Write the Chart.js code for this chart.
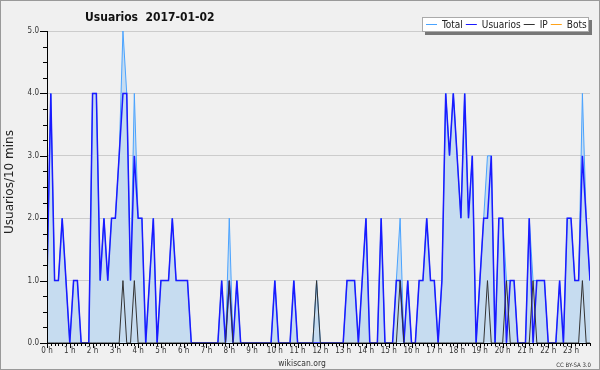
<!DOCTYPE html>
<html>
<head>
<meta charset="utf-8">
<script src="https://cdn.jsdelivr.net/npm/chart.js@4.4.0/dist/chart.umd.min.js"></script>
<style>
  body { margin: 0; background: #f0f0f0; }
  canvas { display: block; }
</style>
</head>
<body>
<canvas id="chart" width="600" height="370"></canvas>
<script>
// 10-minute slots of the day (0 = 00:00, 143 = 23:50)
const slots = Array.from({ length: 144 }, (_, i) => i);
const hourLabels = ['0 h', '1 h', '2 h', '3 h', '4 h', '5 h', '6 h', '7 h', '8 h', '9 h', '10 h', '11 h',
  '12 h', '13 h', '14 h', '15 h', '16 h', '17 h', '18 h', '19 h', '20 h', '21 h', '22 h', '23 h'];
const yTicks = [0, 1, 2, 3, 4, 5];

// usuarios / 10 mins
const total = [
  1, 4, 1, 1, 2, 1, 0, 1, 1, 0, 0, 0,
  4, 4, 1, 2, 1, 2, 2, 3, 5, 4, 1, 4,
  2, 2, 0, 1, 2, 0, 1, 1, 1, 2, 1, 1,
  1, 1, 0, 0, 0, 0, 0, 0, 0, 0, 1, 0,
  2, 0, 1, 0, 0, 0, 0, 0, 0, 0, 0, 0,
  1, 0, 0, 0, 0, 1, 0, 0, 0, 0, 0, 1,
  0, 0, 0, 0, 0, 0, 0, 1, 1, 1, 0, 1,
  2, 0, 0, 0, 2, 0, 0, 0, 1, 2, 0, 1,
  0, 0, 1, 1, 2, 1, 1, 0, 1, 4, 3, 4,
  3, 2, 4, 2, 3, 0, 1, 2, 3, 3, 0, 2,
  2, 1, 1, 1, 0, 0, 0, 2, 1, 1, 1, 1,
  0, 0, 0, 1, 0, 2, 2, 1, 1, 4, 2, 1
];
const usuarios = [
  1, 4, 1, 1, 2, 1, 0, 1, 1, 0, 0, 0,
  4, 4, 1, 2, 1, 2, 2, 3, 4, 4, 1, 3,
  2, 2, 0, 1, 2, 0, 1, 1, 1, 2, 1, 1,
  1, 1, 0, 0, 0, 0, 0, 0, 0, 0, 1, 0,
  1, 0, 1, 0, 0, 0, 0, 0, 0, 0, 0, 0,
  1, 0, 0, 0, 0, 1, 0, 0, 0, 0, 0, 0,
  0, 0, 0, 0, 0, 0, 0, 1, 1, 1, 0, 1,
  2, 0, 0, 0, 2, 0, 0, 0, 1, 1, 0, 1,
  0, 0, 1, 1, 2, 1, 1, 0, 1, 4, 3, 4,
  3, 2, 4, 2, 3, 0, 1, 2, 2, 3, 0, 2,
  2, 0, 1, 1, 0, 0, 0, 2, 0, 1, 1, 1,
  0, 0, 0, 1, 0, 2, 2, 1, 1, 3, 2, 1
];
const ip = [
  0, 0, 0, 0, 0, 0, 0, 0, 0, 0, 0, 0,
  0, 0, 0, 0, 0, 0, 0, 0, 1, 0, 0, 1,
  0, 0, 0, 0, 0, 0, 0, 0, 0, 0, 0, 0,
  0, 0, 0, 0, 0, 0, 0, 0, 0, 0, 0, 0,
  1, 0, 0, 0, 0, 0, 0, 0, 0, 0, 0, 0,
  0, 0, 0, 0, 0, 0, 0, 0, 0, 0, 0, 1,
  0, 0, 0, 0, 0, 0, 0, 0, 0, 0, 0, 0,
  0, 0, 0, 0, 0, 0, 0, 0, 0, 1, 0, 0,
  0, 0, 0, 0, 0, 0, 0, 0, 0, 0, 0, 0,
  0, 0, 0, 0, 0, 0, 0, 0, 1, 0, 0, 0,
  0, 1, 0, 0, 0, 0, 0, 0, 1, 0, 0, 0,
  0, 0, 0, 0, 0, 0, 0, 0, 0, 1, 0, 0
];
const bots = [
  0, 0, 0, 0, 0, 0, 0, 0, 0, 0, 0, 0,
  0, 0, 0, 0, 0, 0, 0, 0, 0, 0, 0, 0,
  0, 0, 0, 0, 0, 0, 0, 0, 0, 0, 0, 0,
  0, 0, 0, 0, 0, 0, 0, 0, 0, 0, 0, 0,
  0, 0, 0, 0, 0, 0, 0, 0, 0, 0, 0, 0,
  0, 0, 0, 0, 0, 0, 0, 0, 0, 0, 0, 0,
  0, 0, 0, 0, 0, 0, 0, 0, 0, 0, 0, 0,
  0, 0, 0, 0, 0, 0, 0, 0, 0, 0, 0, 0,
  0, 0, 0, 0, 0, 0, 0, 0, 0, 0, 0, 0,
  0, 0, 0, 0, 0, 0, 0, 0, 0, 0, 0, 0,
  0, 0, 0, 0, 0, 0, 0, 0, 0, 0, 0, 0,
  0, 0, 0, 0, 0, 0, 0, 0, 0, 0, 0, 0
];

const FONT = '"DejaVu Sans Condensed", "DejaVu Sans", sans-serif';

// background, minor ticks, texts and the boxed legend
const deco = {
  id: 'deco',
  beforeDraw(chart) {
    const ctx = chart.ctx;
    ctx.save();
    ctx.fillStyle = '#f0f0f0';
    ctx.fillRect(0, 0, chart.width, chart.height);
    ctx.restore();
  },
  afterDraw(chart) {
    const { ctx, chartArea: a, scales: { x, y } } = chart;
    ctx.save();
    ctx.strokeStyle = '#000';
    ctx.lineWidth = 1;
    ctx.beginPath();
    slots.forEach(i => {
      const px = Math.round(x.getPixelForValue(i)) + 0.5;
      ctx.moveTo(px, a.bottom);
      ctx.lineTo(px, a.bottom + (i % 6 ? 3 : 5));
    });
    for (let v = 0; v <= 5; v += 0.25) {
      const py = Math.round(y.getPixelForValue(v)) + 0.5;
      ctx.moveTo(a.left - (v % 1 ? 4 : 7), py);
      ctx.lineTo(a.left, py);
    }
    ctx.stroke();

    // title
    ctx.fillStyle = '#111';
    ctx.font = 'bold 12px ' + FONT;
    ctx.textAlign = 'left';
    ctx.textBaseline = 'alphabetic';
    ctx.fillText('Usuarios  2017-01-02', 85, 21);

    // y axis title
    ctx.save();
    ctx.translate(13, 182);
    ctx.rotate(-Math.PI / 2);
    ctx.textAlign = 'center';
    ctx.font = '12px "DejaVu Sans", sans-serif';
    ctx.fillStyle = '#222';
    ctx.fillText('Usuarios/10 mins', 0, 0);
    ctx.restore();

    // footer
    ctx.fillStyle = '#333';
    ctx.font = '8.5px ' + FONT;
    ctx.textAlign = 'center';
    ctx.fillText('wikiscan.org', 302, 366);
    ctx.font = '6px ' + FONT;
    ctx.textAlign = 'right';
    ctx.fillText('CC BY-SA 3.0', 591, 367);

    // legend
    ctx.fillStyle = '#777';
    ctx.fillRect(425, 20, 167, 15);
    ctx.fillStyle = '#fff';
    ctx.fillRect(422, 17, 167, 15);
    ctx.strokeStyle = '#aaa';
    ctx.strokeRect(422.5, 17.5, 166, 14);
    ctx.font = '10px ' + FONT;
    ctx.textAlign = 'left';
    let lx = 426;
    chart.data.datasets.forEach(ds => {
      ctx.strokeStyle = ds.borderColor;
      ctx.lineWidth = 1;
      ctx.beginPath();
      ctx.moveTo(lx, 24.5);
      ctx.lineTo(lx + 11, 24.5);
      ctx.stroke();
      ctx.fillStyle = '#222';
      ctx.fillText(ds.label, lx + 16, 28);
      lx += 16 + ctx.measureText(ds.label).width + 3;
    });

    // frame
    ctx.strokeStyle = '#999';
    ctx.strokeRect(0.5, 0.5, chart.width - 1, chart.height - 1);
    ctx.restore();
  }
};

new Chart(document.getElementById('chart'), {
  type: 'line',
  data: {
    labels: slots,
    datasets: [
      { label: 'Total', data: total, borderColor: '#4aa3ff', backgroundColor: '#c6dcf0',
        fill: 'origin', borderWidth: 1, order: 4 },
      { label: 'Usuarios', data: usuarios, borderColor: '#1a1aff', borderWidth: 1.5,
        fill: false, order: 3 },
      { label: 'IP', data: ip, borderColor: '#333333', borderWidth: 1, fill: false, order: 2 },
      { label: 'Bots', data: bots, borderColor: '#ffa31a', borderWidth: 1, fill: false, order: 5 }
    ]
  },
  options: {
    responsive: false,
    animation: false,
    devicePixelRatio: 1,
    layout: { padding: { left: 0, top: 31, right: 10, bottom: 0 } },
    elements: { point: { radius: 0 }, line: { tension: 0 } },
    plugins: { legend: { display: false }, tooltip: { enabled: false }, title: { display: false } },
    scales: {
      x: {
        type: 'linear',
        min: 0,
        max: slots.length - 1,
        afterBuildTicks: s => { s.ticks = hourLabels.map((_, h) => ({ value: h * 6 })); },
        afterFit: s => { s.height = 27; },
        grid: { display: false, drawTicks: false },
        border: { display: true, color: '#000', width: 1, z: 1 },
        ticks: {
          autoSkip: false, maxRotation: 0, padding: 3,
          color: '#333', font: { family: FONT, size: 8 },
          callback: v => hourLabels[v / 6]
        }
      },
      y: {
        min: 0,
        max: 5,
        afterBuildTicks: s => { s.ticks = yTicks.map(v => ({ value: v })); },
        afterFit: s => { s.width = 47; },
        grid: { color: '#cccccc', drawTicks: false },
        border: { display: true, color: '#000', width: 1, z: 1 },
        ticks: {
          padding: 8, color: '#333', font: { family: FONT, size: 8 },
          callback: v => v.toFixed(1)
        }
      }
    }
  },
  plugins: [deco]
});
</script>
</body>
</html>
